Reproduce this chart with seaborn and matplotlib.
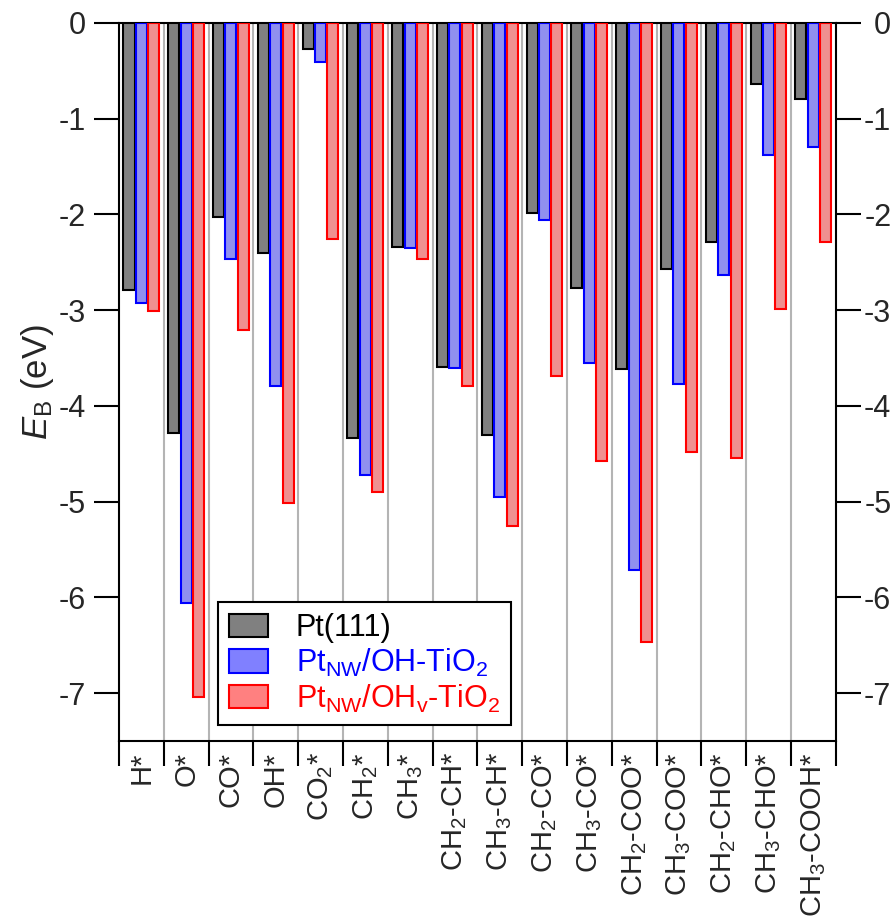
import numpy as np
import pandas as pd
import matplotlib
matplotlib.use("Agg")
import matplotlib.pyplot as plt
import seaborn as sns

categories = ["H*", "O*", "CO*", "OH*", "CO$_2$*", "CH$_2$*", "CH$_3$*",
              "CH$_2$-CH*", "CH$_3$-CH*", "CH$_2$-CO*", "CH$_3$-CO*",
              "CH$_2$-COO*", "CH$_3$-COO*", "CH$_2$-CHO*", "CH$_3$-CHO*",
              "CH$_3$-COOH*"]
series_names = ["Pt(111)", "Pt$_{\\mathrm{NW}}$/OH-TiO$_2$",
                "Pt$_{\\mathrm{NW}}$/OH$_{\\mathrm{v}}$-TiO$_2$"]
pt111 = [-2.79, -4.28, -2.03, -2.40, -0.27, -4.33, -2.34, -3.59, -4.30,
         -1.98, -2.77, -3.61, -2.57, -2.29, -0.64, -0.79]
pt_oh = [-2.93, -6.06, -2.46, -3.79, -0.41, -4.72, -2.35, -3.60, -4.95,
         -2.06, -3.55, -5.71, -3.77, -2.63, -1.38, -1.30]
pt_ohv = [-3.01, -7.04, -3.21, -5.01, -2.26, -4.90, -2.46, -3.79, -5.25,
          -3.69, -4.57, -6.47, -4.48, -4.54, -2.99, -2.29]
y_ticks = [0, -1, -2, -3, -4, -5, -6, -7]

fills = ["#808080", "#8080ff", "#ff8080"]
edges = ["#000000", "#0000ff", "#ff0000"]

df = pd.DataFrame({
    "cat": categories * 3,
    "series": [series_names[0]] * 16 + [series_names[1]] * 16 + [series_names[2]] * 16,
    "val": pt111 + pt_oh + pt_ohv,
})

sns.set_theme(style="white")
plt.rcParams["font.family"] = ["Liberation Sans", "DejaVu Sans"]
plt.rcParams["mathtext.fontset"] = "custom"
plt.rcParams["mathtext.rm"] = "Liberation Sans"
plt.rcParams["mathtext.it"] = "Liberation Sans:italic"
plt.rcParams["mathtext.bf"] = "Liberation Sans:bold"
plt.rcParams["axes.unicode_minus"] = False

fig = plt.figure(figsize=(8.95, 9.21), dpi=100)
ax = fig.add_axes([119 / 895, 1 - 741 / 921, (835.7 - 119) / 895, (741 - 23) / 921])

sns.barplot(data=df, x="cat", y="val", hue="series", order=categories,
            hue_order=series_names, palette=fills, width=0.83, gap=0.11,
            ax=ax, zorder=3, legend=True)

for cont, ec in zip(ax.containers, edges):
    for p in cont.patches:
        p.set_edgecolor(ec)
        p.set_linewidth(1.5)
        p.set_alpha(None)

ax.set_xlim(-0.5, len(categories) - 0.5)
ax.set_ylim(-7.5, 0)

# category boundaries: ticks + gray lines
bounds = np.arange(len(categories) + 1) - 0.5
ax.set_xticks(bounds)
ax.set_xticklabels([])
ax.set_xticks(np.arange(len(categories)), minor=True)
ax.set_xticklabels(categories, minor=True, rotation=90, fontsize=21, va="top", ha="center")
for b in bounds[1:-1]:
    ax.axvline(b, color="#b4b4b4", lw=1.5, zorder=1)
ax.tick_params(axis="x", which="major", direction="out", length=18, width=1.5,
               bottom=True, color="black")
ax.tick_params(axis="x", which="minor", length=0, pad=8, bottom=True)

ax.set_yticks(y_ticks)
ax.set_yticklabels([str(t) for t in y_ticks])

# right-hand labels (right aligned, as in the reference)
ax2 = ax.twinx()
ax2.set_ylim(ax.get_ylim())
ax2.set_yticks(y_ticks)
ax2.set_yticklabels([str(t) for t in y_ticks], ha="right")
ax2.tick_params(axis="y", direction="out", length=0, labelsize=22, pad=40)
for s in ax2.spines.values():
    s.set_visible(False)
ax2.grid(False)

ax.tick_params(axis="y", which="major", direction="out", length=18, width=1.5,
               left=True, right=True, labelleft=True, labelright=False,
               labelsize=22, color="black", pad=6)

for s in ax.spines.values():
    s.set_visible(True)
    s.set_color("black")
    s.set_linewidth(1.5)

ax.set_xlabel("")
ax.set_ylabel("$E$$_{\\mathrm{B}}$ (eV)", fontsize=25, labelpad=2)

leg = ax.legend(loc="lower left", bbox_to_anchor=(0.138, 0.022), fontsize=22,
                frameon=True, fancybox=False, edgecolor="black",
                handlelength=1.3, handleheight=0.8, handletextpad=0.9,
                labelspacing=0.12, borderpad=0.35, borderaxespad=0)
leg.get_frame().set_linewidth(1.5)
leg.get_frame().set_alpha(1)
for txt, col in zip(leg.get_texts(), ["black", "#0000ff", "#ff0000"]):
    txt.set_color(col)
for h, fc, ec in zip(leg.legend_handles, fills, edges):
    h.set_facecolor(fc)
    h.set_edgecolor(ec)
    h.set_linewidth(1.5)
leg.set_zorder(5)

fig.savefig("out.png", dpi=100)
